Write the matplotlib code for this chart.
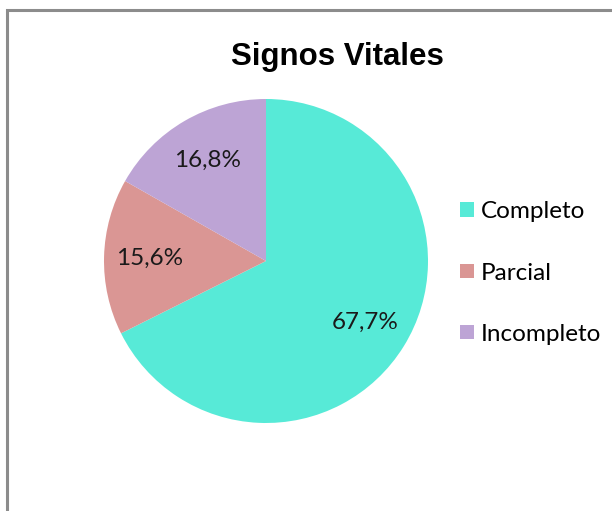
import matplotlib
matplotlib.use("Agg")
import matplotlib.pyplot as plt
from matplotlib.patches import Rectangle

# Data
categories = ["Completo", "Parcial", "Incompleto"]
values = [67.7, 15.6, 16.8]
colors = ["#57EAD7", "#DA9694", "#BDA4D5"]
title = "Signos Vitales"

W, H = 612, 511
fig = plt.figure(figsize=(W / 100, H / 100), dpi=100)

# Grey chart frame (runs off the right and bottom edges)
fig.patches.append(Rectangle((7 / W, -0.1), 1.2, (H - 10) / H + 0.1,
                             transform=fig.transFigure, fill=False,
                             edgecolor="#8C8C8C", linewidth=2.2))

# Pie axes: center (266, 261) px, radius 162 px
cx, cy, r = 266, 261, 162
ax = fig.add_axes([(cx - r) / W, (H - cy - r) / H, 2 * r / W, 2 * r / H])
wedges, texts, autotexts = ax.pie(
    values, colors=colors, startangle=90, counterclock=False,
    autopct="%1.1f", pctdistance=0.72,
    textprops=dict(fontsize=17.5, family=["Lato", "DejaVu Sans"], color="#1a1a1a"),
    wedgeprops=dict(linewidth=0),
)
for t, v in zip(autotexts, values):
    t.set_text(f"{v:.1f}%".replace(".", ","))
ax.set_xlim(-1, 1)
ax.set_ylim(-1, 1)
ax.set_aspect("equal")
ax.axis("off")

fig.text(337 / W, 1 - 57 / H, title, ha="center", va="center",
         fontsize=22.5, fontweight="bold",
         family=["Liberation Sans Narrow", "Liberation Sans", "DejaVu Sans"])

fig.legend(wedges, categories, loc="center left",
           bbox_to_anchor=(448 / W, 1 - 273 / H), frameon=False,
           prop=dict(size=17.5, family=["Lato", "DejaVu Sans"]),
           handlelength=0.55, handleheight=0.55, handletextpad=0.3,
           labelspacing=1.65, borderpad=0)

fig.savefig("out.png", dpi=100)
